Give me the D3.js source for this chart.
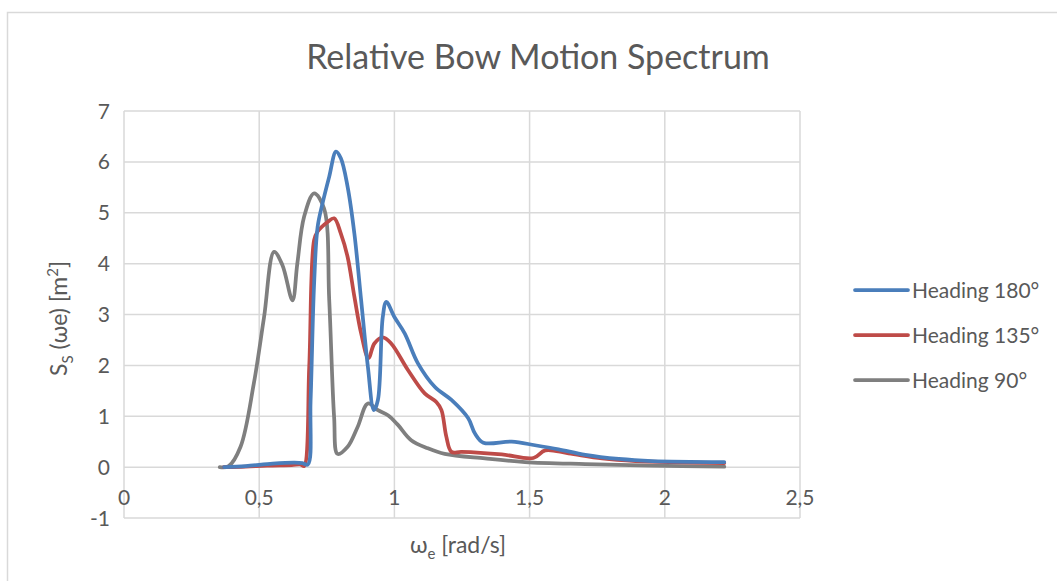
<!DOCTYPE html>
<html>
<head>
<meta charset="utf-8">
<script src="https://cdn.jsdelivr.net/npm/d3@7"></script>
<style>
  body { margin: 0; background: #fff; }
  text { font-family: Lato, "Open Sans", sans-serif; fill: #595959; }
</style>
</head>
<body>
<div class="chart"></div>
<script>

// Heading 180
const omega180 = [0.37,0.45,0.55,0.63,0.66,0.68,0.69,0.703,0.716,0.734,0.759,0.784,0.802,0.827,0.852,0.877,0.902,0.924,0.939,0.957,0.970,1.0,1.038,1.087,1.149,1.211,1.273,1.298,1.329,1.434,1.520,1.607,1.706,1.830,1.954,2.22];
const s180 = [0,0.02,0.07,0.09,0.08,0.05,1.3,3.6,4.72,5.18,5.71,6.2,6.07,5.51,4.59,3.28,1.97,1.12,1.32,2.95,3.25,2.95,2.63,2.04,1.58,1.32,0.96,0.66,0.48,0.50,0.43,0.35,0.24,0.16,0.12,0.10];

// Heading 135
const omega135 = [0.37,0.45,0.53,0.62,0.654,0.666,0.685,0.703,0.716,0.753,0.777,0.802,0.827,0.852,0.877,0.904,0.926,0.957,0.988,1.050,1.112,1.155,1.174,1.192,1.211,1.248,1.397,1.514,1.558,1.644,1.768,1.892,2.22];
const s135 = [0,0.01,0.03,0.04,0.05,0.02,1.97,4.46,4.63,4.82,4.89,4.59,4.13,3.35,2.63,2.14,2.43,2.55,2.43,1.91,1.45,1.28,1.12,0.6,0.30,0.30,0.25,0.18,0.33,0.27,0.17,0.12,0.08];

// Heading 90
const omega90 = [0.354,0.387,0.431,0.480,0.518,0.555,0.586,0.623,0.641,0.666,0.703,0.740,0.759,0.777,0.790,0.827,0.864,0.902,0.939,0.976,1.013,1.062,1.124,1.186,1.335,1.483,1.706,1.954,2.22];
const s90 = [0,0.02,0.4,1.64,2.95,4.23,3.97,3.28,4.0,4.92,5.38,5.08,3.28,0.99,0.26,0.4,0.79,1.25,1.12,1.02,0.83,0.53,0.37,0.26,0.17,0.10,0.06,0.03,0.01];

const seriesNames = ["Heading 180°","Heading 135°","Heading 90°"];
const seriesColors = ["#4a7ebb","#be4b48","#7f7f7f"];

const xTicks = [0,0.5,1,1.5,2,2.5];
const xTickLabels = ["0","0,5","1","1,5","2","2,5"];
const yTicks = [-1,0,1,2,3,4,5,6,7];

document.addEventListener('DOMContentLoaded', () => {
  const width = 1057, height = 581;
  const margin = {top: 111, left: 124, right: 260, bottom: 63};

  const series = [
    {name: seriesNames[0], color: seriesColors[0], pts: omega180.map((w,i) => [w, s180[i]])},
    {name: seriesNames[1], color: seriesColors[1], pts: omega135.map((w,i) => [w, s135[i]])},
    {name: seriesNames[2], color: seriesColors[2], pts: omega90.map((w,i) => [w, s90[i]])}
  ];

  const xScale = d3.scaleLinear().domain([0, 2.5]).range([margin.left, width - margin.right + 3]);
  const yScale = d3.scaleLinear().domain([-1, 7]).range([height - margin.bottom - 0, margin.top]);

  const svg = d3.select('.chart').append('svg')
    .attr('width', width).attr('height', height);

  // chart area border (only top and left visible)
  svg.append('rect')
    .attr('x', 7.5).attr('y', 12.5)
    .attr('width', width + 20).attr('height', height + 20)
    .attr('fill', 'none').attr('stroke', '#d9d9d9').attr('stroke-width', 1.5);

  // gridlines
  svg.append('g').selectAll('line').data(yTicks).enter().append('line')
    .attr('x1', xScale(0)).attr('x2', xScale(2.5))
    .attr('y1', d => yScale(d)).attr('y2', d => yScale(d))
    .attr('stroke', '#d9d9d9').attr('stroke-width', 1.5);
  svg.append('g').selectAll('line').data(xTicks).enter().append('line')
    .attr('x1', d => xScale(d)).attr('x2', d => xScale(d))
    .attr('y1', yScale(-1)).attr('y2', yScale(7))
    .attr('stroke', '#d9d9d9').attr('stroke-width', 1.5);

  // y tick labels
  svg.append('g').selectAll('text').data(yTicks).enter().append('text')
    .attr('x', xScale(0) - 14).attr('y', d => yScale(d) + 7.5)
    .attr('text-anchor', 'end').attr('font-size', 21)
    .text(d => d);

  // x tick labels next to the zero line
  svg.append('g').selectAll('text').data(xTicks).enter().append('text')
    .attr('x', d => xScale(d)).attr('y', yScale(0) + 38)
    .attr('text-anchor', 'middle').attr('font-size', 21)
    .text((d,i) => xTickLabels[i]);

  // lines
  const line = d3.line()
    .x(d => xScale(d[0]))
    .y(d => yScale(d[1]))
    .curve(d3.curveCatmullRom.alpha(0.5));

  svg.append('g').selectAll('path').data(series.slice().reverse()).enter().append('path')
    .attr('d', d => line(d.pts))
    .attr('fill', 'none')
    .attr('stroke', d => d.color)
    .attr('stroke-width', 3.75)
    .attr('stroke-linejoin', 'round')
    .attr('stroke-linecap', 'round');

  // title
  svg.append('text')
    .attr('x', 538).attr('y', 69)
    .attr('text-anchor', 'middle').attr('font-size', 34)
    .text('Relative Bow Motion Spectrum');

  // x axis title
  const xt = svg.append('text')
    .attr('x', 458).attr('y', 553)
    .attr('text-anchor', 'middle').attr('font-size', 23);
  xt.append('tspan').text('ω');
  xt.append('tspan').attr('dy', 6).attr('font-size', 15).text('e');
  xt.append('tspan').attr('dy', -6).text(' [rad/s]');

  // y axis title
  const yt = svg.append('text')
    .attr('transform', `translate(67,${(yScale(7) + yScale(-1)) / 2 + 4}) rotate(-90)`)
    .attr('text-anchor', 'middle').attr('font-size', 23);
  yt.append('tspan').text('S');
  yt.append('tspan').attr('dy', 6).attr('font-size', 15).text('S');
  yt.append('tspan').attr('dy', -6).text(' (ωe) [m');
  yt.append('tspan').attr('dy', -9).attr('font-size', 15).text('2');
  yt.append('tspan').attr('dy', 9).text(']');

  // legend
  const legend = svg.append('g').selectAll('g').data(series).enter().append('g')
    .attr('transform', (d,i) => `translate(853,${290 + i * 45})`);
  legend.append('line')
    .attr('x1', 2).attr('x2', 55).attr('y1', 0).attr('y2', 0)
    .attr('stroke', d => d.color).attr('stroke-width', 3.75).attr('stroke-linecap', 'round');
  legend.append('text')
    .attr('x', 59).attr('y', 7.5).attr('font-size', 21)
    .text(d => d.name);
});
</script>
</body>
</html>
